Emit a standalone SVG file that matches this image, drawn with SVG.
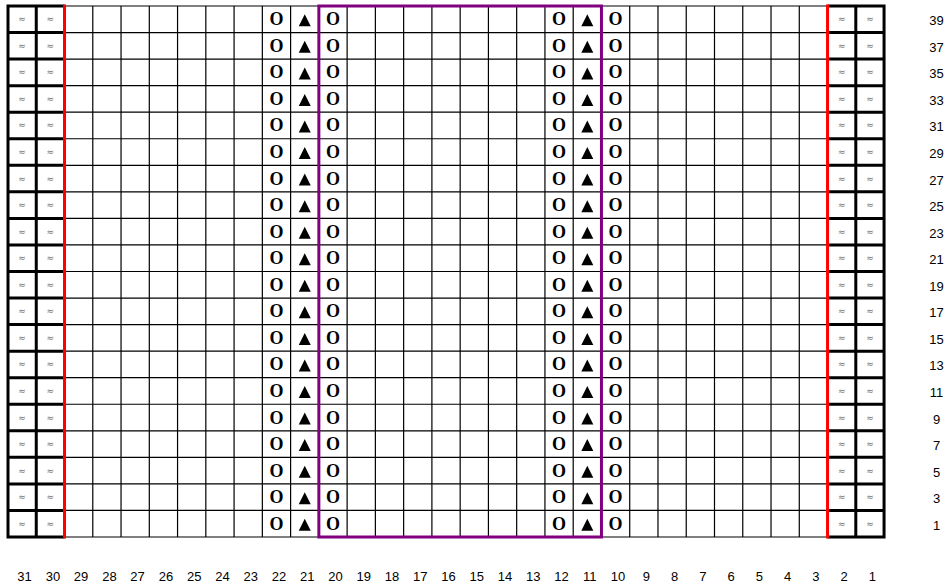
<svg xmlns="http://www.w3.org/2000/svg" xmlns:xlink="http://www.w3.org/1999/xlink" width="947" height="588" viewBox="0 0 947 588">
<style>
.thin{fill:none;stroke:#000;stroke-width:1.2}
.thick{fill:none;stroke:#000;stroke-width:3}
.red{stroke:#ff0000;stroke-width:3}
.purple{fill:none;stroke:#800080;stroke-width:3}
.w{font-family:"DejaVu Sans",sans-serif;font-size:9px;fill:#707070;text-anchor:middle}
.o{font-family:"Liberation Serif","Times New Roman",serif;font-size:18px;font-weight:bold;fill:#000;text-anchor:middle}
.lbl{font-family:"Liberation Sans",Arial,sans-serif;font-size:13px;fill:#000;text-anchor:middle}
</style>
<defs>
<polygon id="tri" points="-6,7 0,-5 6,7" fill="#000"/>
</defs>
<rect x="0" y="0" width="947" height="588" fill="#fff"/>
<g id="grid">
<path class="thin" d="M64.52 6H827.54M64.52 32.55H827.54M64.52 59.1H827.54M64.52 85.65H827.54M64.52 112.2H827.54M64.52 138.75H827.54M64.52 165.3H827.54M64.52 191.85H827.54M64.52 218.4H827.54M64.52 244.95H827.54M64.52 271.5H827.54M64.52 298.05H827.54M64.52 324.6H827.54M64.52 351.15H827.54M64.52 377.7H827.54M64.52 404.25H827.54M64.52 430.8H827.54M64.52 457.35H827.54M64.52 483.9H827.54M64.52 510.45H827.54M64.52 537H827.54"/>
<path class="thin" d="M92.78 6V537M121.04 6V537M149.3 6V537M177.56 6V537M205.82 6V537M234.08 6V537M262.34 6V537M290.6 6V537M318.86 6V537M347.12 6V537M375.38 6V537M403.64 6V537M431.9 6V537M460.16 6V537M488.42 6V537M516.68 6V537M544.94 6V537M573.2 6V537M601.46 6V537M629.72 6V537M657.98 6V537M686.24 6V537M714.5 6V537M742.76 6V537M771.02 6V537M799.28 6V537"/>
<path class="thick" d="M6.5 6H64.52M6.5 32.55H64.52M6.5 59.1H64.52M6.5 85.65H64.52M6.5 112.2H64.52M6.5 138.75H64.52M6.5 165.3H64.52M6.5 191.85H64.52M6.5 218.4H64.52M6.5 244.95H64.52M6.5 271.5H64.52M6.5 298.05H64.52M6.5 324.6H64.52M6.5 351.15H64.52M6.5 377.7H64.52M6.5 404.25H64.52M6.5 430.8H64.52M6.5 457.35H64.52M6.5 483.9H64.52M6.5 510.45H64.52M6.5 537H64.52M8 4.5V538.5M36.26 4.5V538.5"/>
<path class="thick" d="M827.54 6H885.56M827.54 32.55H885.56M827.54 59.1H885.56M827.54 85.65H885.56M827.54 112.2H885.56M827.54 138.75H885.56M827.54 165.3H885.56M827.54 191.85H885.56M827.54 218.4H885.56M827.54 244.95H885.56M827.54 271.5H885.56M827.54 298.05H885.56M827.54 324.6H885.56M827.54 351.15H885.56M827.54 377.7H885.56M827.54 404.25H885.56M827.54 430.8H885.56M827.54 457.35H885.56M827.54 483.9H885.56M827.54 510.45H885.56M827.54 537H885.56M855.8 4.5V538.5M884.06 4.5V538.5"/>
<path class="red" d="M64.52 4.5V538.5M827.54 4.5V538.5"/>
<rect class="purple" x="318.86" y="6" width="282.6" height="531"/>
</g>
<g id="rows">
<g transform="translate(0,19.28)"><text class="w" x="22.13" y="3">≈</text><text class="w" x="50.39" y="3">≈</text><text class="o" x="276.47" y="6">O</text><use xlink:href="#tri" x="304.73"/><text class="o" x="332.99" y="6">O</text><text class="o" x="559.07" y="6">O</text><use xlink:href="#tri" x="587.33"/><text class="o" x="615.59" y="6">O</text><text class="w" x="841.67" y="3">≈</text><text class="w" x="869.93" y="3">≈</text><text class="lbl" x="936.5" y="6">39</text></g>
<g transform="translate(0,45.83)"><text class="w" x="22.13" y="3">≈</text><text class="w" x="50.39" y="3">≈</text><text class="o" x="276.47" y="6">O</text><use xlink:href="#tri" x="304.73"/><text class="o" x="332.99" y="6">O</text><text class="o" x="559.07" y="6">O</text><use xlink:href="#tri" x="587.33"/><text class="o" x="615.59" y="6">O</text><text class="w" x="841.67" y="3">≈</text><text class="w" x="869.93" y="3">≈</text><text class="lbl" x="936.5" y="6">37</text></g>
<g transform="translate(0,72.38)"><text class="w" x="22.13" y="3">≈</text><text class="w" x="50.39" y="3">≈</text><text class="o" x="276.47" y="6">O</text><use xlink:href="#tri" x="304.73"/><text class="o" x="332.99" y="6">O</text><text class="o" x="559.07" y="6">O</text><use xlink:href="#tri" x="587.33"/><text class="o" x="615.59" y="6">O</text><text class="w" x="841.67" y="3">≈</text><text class="w" x="869.93" y="3">≈</text><text class="lbl" x="936.5" y="6">35</text></g>
<g transform="translate(0,98.93)"><text class="w" x="22.13" y="3">≈</text><text class="w" x="50.39" y="3">≈</text><text class="o" x="276.47" y="6">O</text><use xlink:href="#tri" x="304.73"/><text class="o" x="332.99" y="6">O</text><text class="o" x="559.07" y="6">O</text><use xlink:href="#tri" x="587.33"/><text class="o" x="615.59" y="6">O</text><text class="w" x="841.67" y="3">≈</text><text class="w" x="869.93" y="3">≈</text><text class="lbl" x="936.5" y="6">33</text></g>
<g transform="translate(0,125.48)"><text class="w" x="22.13" y="3">≈</text><text class="w" x="50.39" y="3">≈</text><text class="o" x="276.47" y="6">O</text><use xlink:href="#tri" x="304.73"/><text class="o" x="332.99" y="6">O</text><text class="o" x="559.07" y="6">O</text><use xlink:href="#tri" x="587.33"/><text class="o" x="615.59" y="6">O</text><text class="w" x="841.67" y="3">≈</text><text class="w" x="869.93" y="3">≈</text><text class="lbl" x="936.5" y="6">31</text></g>
<g transform="translate(0,152.03)"><text class="w" x="22.13" y="3">≈</text><text class="w" x="50.39" y="3">≈</text><text class="o" x="276.47" y="6">O</text><use xlink:href="#tri" x="304.73"/><text class="o" x="332.99" y="6">O</text><text class="o" x="559.07" y="6">O</text><use xlink:href="#tri" x="587.33"/><text class="o" x="615.59" y="6">O</text><text class="w" x="841.67" y="3">≈</text><text class="w" x="869.93" y="3">≈</text><text class="lbl" x="936.5" y="6">29</text></g>
<g transform="translate(0,178.58)"><text class="w" x="22.13" y="3">≈</text><text class="w" x="50.39" y="3">≈</text><text class="o" x="276.47" y="6">O</text><use xlink:href="#tri" x="304.73"/><text class="o" x="332.99" y="6">O</text><text class="o" x="559.07" y="6">O</text><use xlink:href="#tri" x="587.33"/><text class="o" x="615.59" y="6">O</text><text class="w" x="841.67" y="3">≈</text><text class="w" x="869.93" y="3">≈</text><text class="lbl" x="936.5" y="6">27</text></g>
<g transform="translate(0,205.13)"><text class="w" x="22.13" y="3">≈</text><text class="w" x="50.39" y="3">≈</text><text class="o" x="276.47" y="6">O</text><use xlink:href="#tri" x="304.73"/><text class="o" x="332.99" y="6">O</text><text class="o" x="559.07" y="6">O</text><use xlink:href="#tri" x="587.33"/><text class="o" x="615.59" y="6">O</text><text class="w" x="841.67" y="3">≈</text><text class="w" x="869.93" y="3">≈</text><text class="lbl" x="936.5" y="6">25</text></g>
<g transform="translate(0,231.68)"><text class="w" x="22.13" y="3">≈</text><text class="w" x="50.39" y="3">≈</text><text class="o" x="276.47" y="6">O</text><use xlink:href="#tri" x="304.73"/><text class="o" x="332.99" y="6">O</text><text class="o" x="559.07" y="6">O</text><use xlink:href="#tri" x="587.33"/><text class="o" x="615.59" y="6">O</text><text class="w" x="841.67" y="3">≈</text><text class="w" x="869.93" y="3">≈</text><text class="lbl" x="936.5" y="6">23</text></g>
<g transform="translate(0,258.23)"><text class="w" x="22.13" y="3">≈</text><text class="w" x="50.39" y="3">≈</text><text class="o" x="276.47" y="6">O</text><use xlink:href="#tri" x="304.73"/><text class="o" x="332.99" y="6">O</text><text class="o" x="559.07" y="6">O</text><use xlink:href="#tri" x="587.33"/><text class="o" x="615.59" y="6">O</text><text class="w" x="841.67" y="3">≈</text><text class="w" x="869.93" y="3">≈</text><text class="lbl" x="936.5" y="6">21</text></g>
<g transform="translate(0,284.78)"><text class="w" x="22.13" y="3">≈</text><text class="w" x="50.39" y="3">≈</text><text class="o" x="276.47" y="6">O</text><use xlink:href="#tri" x="304.73"/><text class="o" x="332.99" y="6">O</text><text class="o" x="559.07" y="6">O</text><use xlink:href="#tri" x="587.33"/><text class="o" x="615.59" y="6">O</text><text class="w" x="841.67" y="3">≈</text><text class="w" x="869.93" y="3">≈</text><text class="lbl" x="936.5" y="6">19</text></g>
<g transform="translate(0,311.33)"><text class="w" x="22.13" y="3">≈</text><text class="w" x="50.39" y="3">≈</text><text class="o" x="276.47" y="6">O</text><use xlink:href="#tri" x="304.73"/><text class="o" x="332.99" y="6">O</text><text class="o" x="559.07" y="6">O</text><use xlink:href="#tri" x="587.33"/><text class="o" x="615.59" y="6">O</text><text class="w" x="841.67" y="3">≈</text><text class="w" x="869.93" y="3">≈</text><text class="lbl" x="936.5" y="6">17</text></g>
<g transform="translate(0,337.88)"><text class="w" x="22.13" y="3">≈</text><text class="w" x="50.39" y="3">≈</text><text class="o" x="276.47" y="6">O</text><use xlink:href="#tri" x="304.73"/><text class="o" x="332.99" y="6">O</text><text class="o" x="559.07" y="6">O</text><use xlink:href="#tri" x="587.33"/><text class="o" x="615.59" y="6">O</text><text class="w" x="841.67" y="3">≈</text><text class="w" x="869.93" y="3">≈</text><text class="lbl" x="936.5" y="6">15</text></g>
<g transform="translate(0,364.43)"><text class="w" x="22.13" y="3">≈</text><text class="w" x="50.39" y="3">≈</text><text class="o" x="276.47" y="6">O</text><use xlink:href="#tri" x="304.73"/><text class="o" x="332.99" y="6">O</text><text class="o" x="559.07" y="6">O</text><use xlink:href="#tri" x="587.33"/><text class="o" x="615.59" y="6">O</text><text class="w" x="841.67" y="3">≈</text><text class="w" x="869.93" y="3">≈</text><text class="lbl" x="936.5" y="6">13</text></g>
<g transform="translate(0,390.98)"><text class="w" x="22.13" y="3">≈</text><text class="w" x="50.39" y="3">≈</text><text class="o" x="276.47" y="6">O</text><use xlink:href="#tri" x="304.73"/><text class="o" x="332.99" y="6">O</text><text class="o" x="559.07" y="6">O</text><use xlink:href="#tri" x="587.33"/><text class="o" x="615.59" y="6">O</text><text class="w" x="841.67" y="3">≈</text><text class="w" x="869.93" y="3">≈</text><text class="lbl" x="936.5" y="6">11</text></g>
<g transform="translate(0,417.53)"><text class="w" x="22.13" y="3">≈</text><text class="w" x="50.39" y="3">≈</text><text class="o" x="276.47" y="6">O</text><use xlink:href="#tri" x="304.73"/><text class="o" x="332.99" y="6">O</text><text class="o" x="559.07" y="6">O</text><use xlink:href="#tri" x="587.33"/><text class="o" x="615.59" y="6">O</text><text class="w" x="841.67" y="3">≈</text><text class="w" x="869.93" y="3">≈</text><text class="lbl" x="936.5" y="6">9</text></g>
<g transform="translate(0,444.08)"><text class="w" x="22.13" y="3">≈</text><text class="w" x="50.39" y="3">≈</text><text class="o" x="276.47" y="6">O</text><use xlink:href="#tri" x="304.73"/><text class="o" x="332.99" y="6">O</text><text class="o" x="559.07" y="6">O</text><use xlink:href="#tri" x="587.33"/><text class="o" x="615.59" y="6">O</text><text class="w" x="841.67" y="3">≈</text><text class="w" x="869.93" y="3">≈</text><text class="lbl" x="936.5" y="6">7</text></g>
<g transform="translate(0,470.63)"><text class="w" x="22.13" y="3">≈</text><text class="w" x="50.39" y="3">≈</text><text class="o" x="276.47" y="6">O</text><use xlink:href="#tri" x="304.73"/><text class="o" x="332.99" y="6">O</text><text class="o" x="559.07" y="6">O</text><use xlink:href="#tri" x="587.33"/><text class="o" x="615.59" y="6">O</text><text class="w" x="841.67" y="3">≈</text><text class="w" x="869.93" y="3">≈</text><text class="lbl" x="936.5" y="6">5</text></g>
<g transform="translate(0,497.18)"><text class="w" x="22.13" y="3">≈</text><text class="w" x="50.39" y="3">≈</text><text class="o" x="276.47" y="6">O</text><use xlink:href="#tri" x="304.73"/><text class="o" x="332.99" y="6">O</text><text class="o" x="559.07" y="6">O</text><use xlink:href="#tri" x="587.33"/><text class="o" x="615.59" y="6">O</text><text class="w" x="841.67" y="3">≈</text><text class="w" x="869.93" y="3">≈</text><text class="lbl" x="936.5" y="6">3</text></g>
<g transform="translate(0,523.73)"><text class="w" x="22.13" y="3">≈</text><text class="w" x="50.39" y="3">≈</text><text class="o" x="276.47" y="6">O</text><use xlink:href="#tri" x="304.73"/><text class="o" x="332.99" y="6">O</text><text class="o" x="559.07" y="6">O</text><use xlink:href="#tri" x="587.33"/><text class="o" x="615.59" y="6">O</text><text class="w" x="841.67" y="3">≈</text><text class="w" x="869.93" y="3">≈</text><text class="lbl" x="936.5" y="6">1</text></g>
</g>
<g id="col-labels" class="lbl">
<text class="lbl" x="24.6" y="581">31</text><text class="lbl" x="52.9" y="581">30</text><text class="lbl" x="81.1" y="581">29</text><text class="lbl" x="109.4" y="581">28</text><text class="lbl" x="137.6" y="581">27</text><text class="lbl" x="165.9" y="581">26</text><text class="lbl" x="194.2" y="581">25</text><text class="lbl" x="222.4" y="581">24</text><text class="lbl" x="250.7" y="581">23</text><text class="lbl" x="278.9" y="581">22</text><text class="lbl" x="307.2" y="581">21</text><text class="lbl" x="335.5" y="581">20</text><text class="lbl" x="363.7" y="581">19</text><text class="lbl" x="392" y="581">18</text><text class="lbl" x="420.2" y="581">17</text><text class="lbl" x="448.5" y="581">16</text><text class="lbl" x="476.8" y="581">15</text><text class="lbl" x="505" y="581">14</text><text class="lbl" x="533.3" y="581">13</text><text class="lbl" x="561.5" y="581">12</text><text class="lbl" x="589.8" y="581">11</text><text class="lbl" x="618.1" y="581">10</text><text class="lbl" x="646.3" y="581">9</text><text class="lbl" x="674.6" y="581">8</text><text class="lbl" x="702.8" y="581">7</text><text class="lbl" x="731.1" y="581">6</text><text class="lbl" x="759.4" y="581">5</text><text class="lbl" x="787.6" y="581">4</text><text class="lbl" x="815.9" y="581">3</text><text class="lbl" x="844.1" y="581">2</text><text class="lbl" x="872.4" y="581">1</text>
</g>
</svg>
